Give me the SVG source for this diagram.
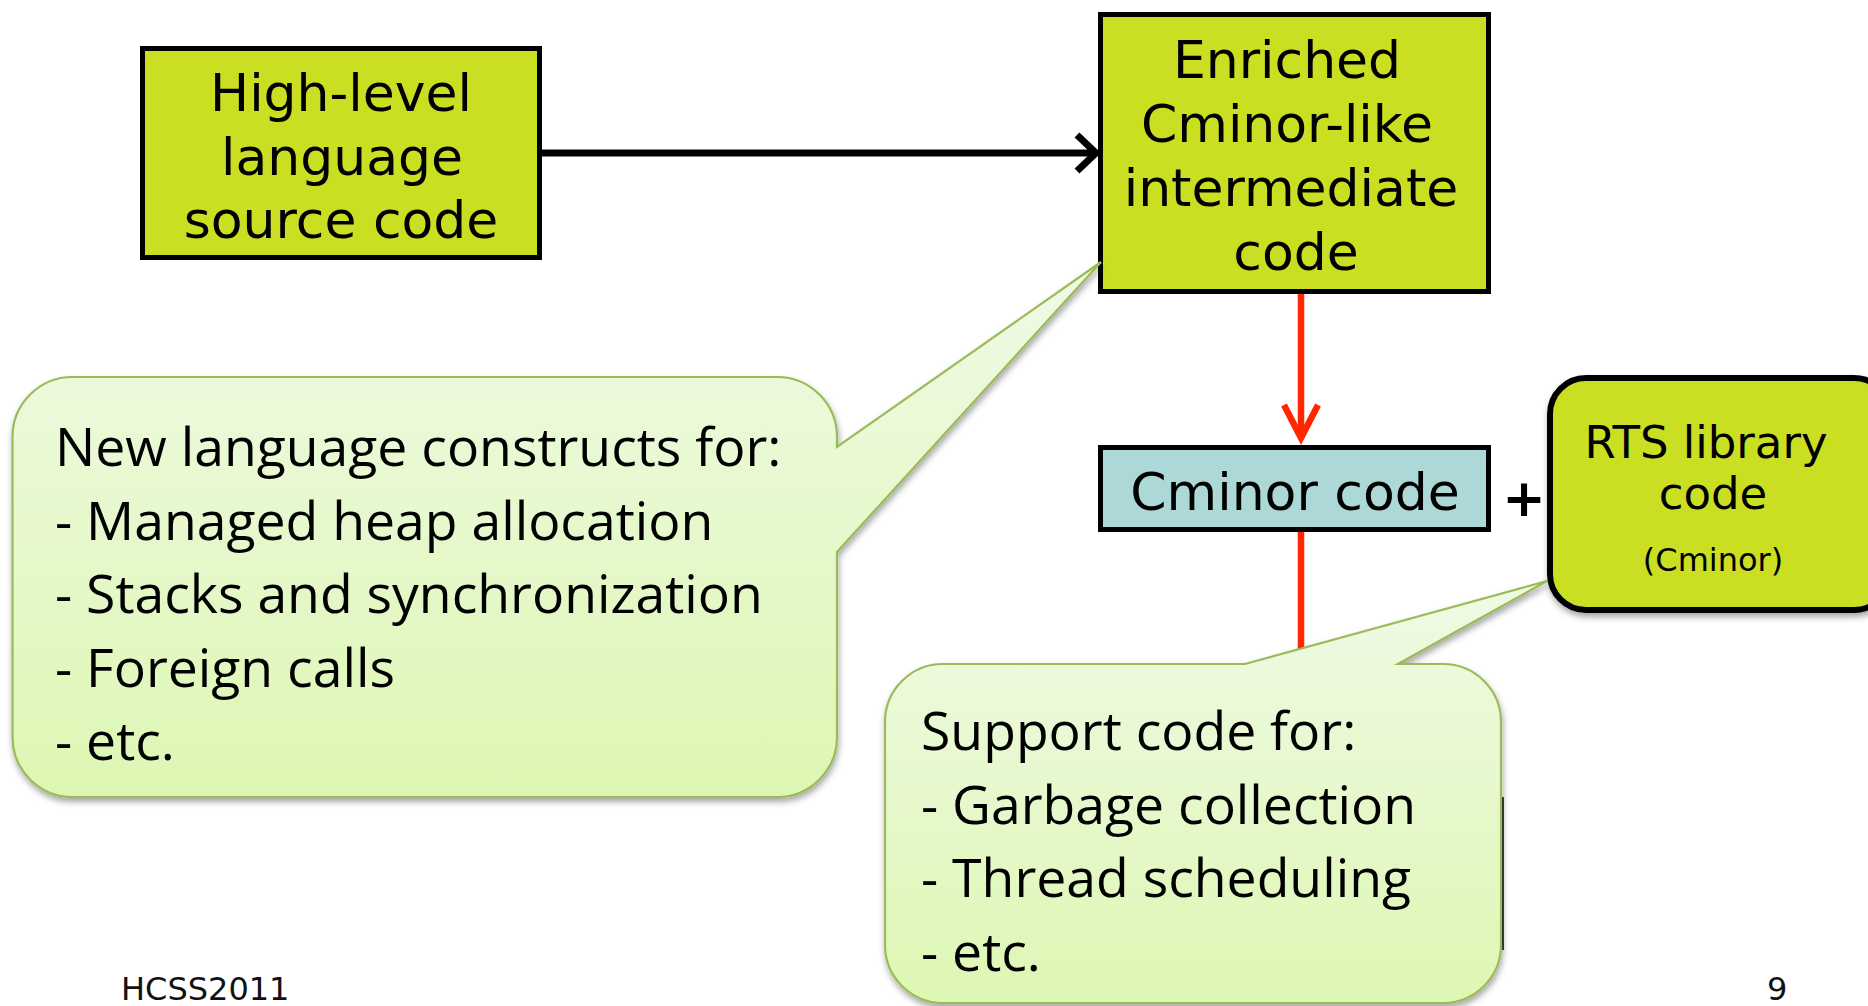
<svg xmlns="http://www.w3.org/2000/svg" width="1868" height="1006" viewBox="0 0 1868 1006">
  <style>
    .box { fill: #cadf22; stroke: #000; stroke-width: 5; }
    .blue { fill: #acd8d7; stroke: #000; stroke-width: 5; }
    .vt { font-family: "DejaVu Sans", Verdana, sans-serif; font-size: 52px; fill: #000; text-anchor: middle; }
    .ct { font-family: "Open Sans", "Noto Sans", sans-serif; font-size: 53.5px; fill: #000; }
    .callout { fill: url(#cg); stroke: #9bbb59; stroke-width: 2.2; stroke-linejoin: miter; }
    .foot { font-family: "DejaVu Sans", Verdana, sans-serif; font-size: 32px; fill: #111; }
    .blk { stroke: #000; stroke-width: 7; fill: none; }
    .red { stroke: #ff2600; stroke-width: 6.5; fill: none; }
  </style>
  <defs>
    <linearGradient id="cg" x1="0" y1="0" x2="0" y2="1">
      <stop offset="0" stop-color="#f0fae6"/>
      <stop offset="1" stop-color="#ddf7b3"/>
    </linearGradient>
    <filter id="sh" x="-5%" y="-5%" width="110%" height="115%">
      <feDropShadow dx="1" dy="4" stdDeviation="3" flood-color="#000" flood-opacity="0.35"/>
    </filter>
  </defs>
  <rect width="1868" height="1006" fill="#fff"/>

  <g id="connectors">
    <line class="blk" x1="542" y1="153" x2="1094" y2="153"/>
    <polyline class="blk" points="1077,135 1096,153 1077,171" stroke-linejoin="miter"/>
    <line class="red" x1="1301" y1="294" x2="1301" y2="437"/>
    <polyline class="red" points="1284,405 1301,438 1318,405"/>
    <line class="red" x1="1301" y1="531" x2="1301" y2="720"/>
  </g>

  <g id="node-highlevel">
    <rect class="box" x="142.5" y="48.5" width="397" height="209"/>
    <text class="vt" x="341" y="111">High-level</text>
    <text class="vt" x="342" y="175">language</text>
    <text class="vt" x="341" y="238">source code</text>
  </g>

  <g id="node-enriched">
    <rect class="box" x="1100.5" y="14.5" width="388" height="277"/>
    <text class="vt" x="1287" y="78">Enriched</text>
    <text class="vt" x="1287" y="142">Cminor-like</text>
    <text class="vt" x="1291" y="206">intermediate</text>
    <text class="vt" x="1296" y="270">code</text>
  </g>

  <g id="node-cminor">
    <rect class="blue" x="1100.5" y="447.5" width="388" height="82"/>
    <text class="vt" x="1295" y="510">Cminor code</text>
  </g>

  <g id="plus">
    <text class="vt" x="1524" y="516" font-weight="bold">+</text>
  </g>

  <g id="node-rts">
    <rect x="1550" y="378" width="340" height="232" rx="36" ry="36" fill="#cadf22" stroke="#000" stroke-width="6" filter="url(#sh)"/>
    <text class="vt" x="1706" y="458" style="font-size:45px">RTS library</text>
    <text class="vt" x="1713" y="509" style="font-size:45px">code</text>
    <text class="vt" x="1713" y="571" style="font-size:32px">(Cminor)</text>
  </g>

  <g id="callout-left">
    <path class="callout" filter="url(#sh)" d="M72.5,377 H777 A60,60 0 0 1 837,437 V447 L1101,262 L837,552 V737 A60,60 0 0 1 777,797 H72.5 A60,60 0 0 1 12.5,737 V437 A60,60 0 0 1 72.5,377 Z"/>
    <text class="ct" x="55" y="466">New language constructs for:</text>
    <text class="ct" x="55" y="540">- Managed heap allocation</text>
    <text class="ct" x="55" y="613">- Stacks and synchronization</text>
    <text class="ct" x="55" y="687">- Foreign calls</text>
    <text class="ct" x="55" y="760">- etc.</text>
  </g>

  <g id="callout-right">
    <path class="callout" filter="url(#sh)" d="M943,664 H1245 L1547,581 L1398,664 H1443 A58,58 0 0 1 1501,722 V945 A58,58 0 0 1 1443,1003 H943 A58,58 0 0 1 885,945 V722 A58,58 0 0 1 943,664 Z"/>
    <text class="ct" x="921" y="750">Support code for:</text>
    <text class="ct" x="921" y="824">- Garbage collection</text>
    <text class="ct" x="921" y="897">- Thread scheduling</text>
    <text class="ct" x="921" y="971">- etc.</text>
    <line x1="1503" y1="797" x2="1503" y2="950" stroke="#000" stroke-width="1.5"/>
  </g>

  <g id="footer">
    <text class="foot" x="121" y="1000">HCSS2011</text>
    <text class="foot" x="1767" y="1000">9</text>
  </g>
</svg>
